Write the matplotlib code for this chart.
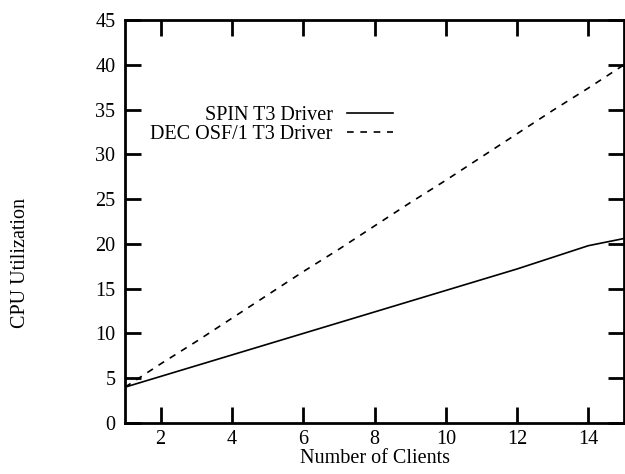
import matplotlib.pyplot as plt

# -------- Data ----------
clients = [1, 2, 3, 4, 5, 6, 7, 8, 9, 10, 11, 12, 13, 14, 15]
spin_cpu = [4.0, 5.2, 6.4, 7.6, 8.8, 10.0, 11.2, 12.4, 13.6, 14.8, 16.0, 17.2, 18.5, 19.8, 20.6]
dec_cpu = [4.0, 6.6, 9.1, 11.7, 14.3, 16.9, 19.4, 22.0, 24.6, 27.1, 29.7, 32.3, 34.9, 37.4, 40.0]

x_ticks = [2, 4, 6, 8, 10, 12, 14]
y_ticks = [0, 5, 10, 15, 20, 25, 30, 35, 40, 45]
# ------------------------

plt.rcParams['font.family'] = ['Liberation Serif', 'DejaVu Serif']
FS = 14.5

fig = plt.figure(figsize=(6.25, 4.74), dpi=100)
ax = fig.add_axes([0.2, 1 - 423 / 474, (624 - 125) / 625, (423 - 20) / 474])

ax.plot(clients, spin_cpu, color='black', lw=1.2, label='SPIN T3 Driver')
ax.plot(clients, dec_cpu, color='black', lw=1.2, dashes=(4, 4), label='DEC OSF/1 T3 Driver')

ax.set_xlim(1, 15)
ax.set_ylim(0, 45)
ax.set_xticks(x_ticks)
ax.set_yticks(y_ticks)

for s in ax.spines.values():
    s.set_linewidth(2)

ax.tick_params(direction='in', length=11.5, width=2, top=True, right=True,
               labelsize=FS, colors='black')
ax.tick_params(axis='y', pad=7)
ax.tick_params(axis='x', pad=5)

ax.set_xlabel('Number of Clients', fontsize=FS, labelpad=0)
fig.text(21 / 625, 1 - 263 / 474, 'CPU Utilization', rotation=90,
         ha='center', va='center', fontsize=FS)

# legend: labels on the left, line samples on the right
ax.legend(loc='upper right', bbox_to_anchor=((393 - 125) / 499, (423 - 106) / 403),
          frameon=False, markerfirst=False, fontsize=FS, borderpad=0,
          borderaxespad=0, handlelength=2.3, handletextpad=0.7, labelspacing=-0.02)

fig.savefig('out.png', dpi=100)
